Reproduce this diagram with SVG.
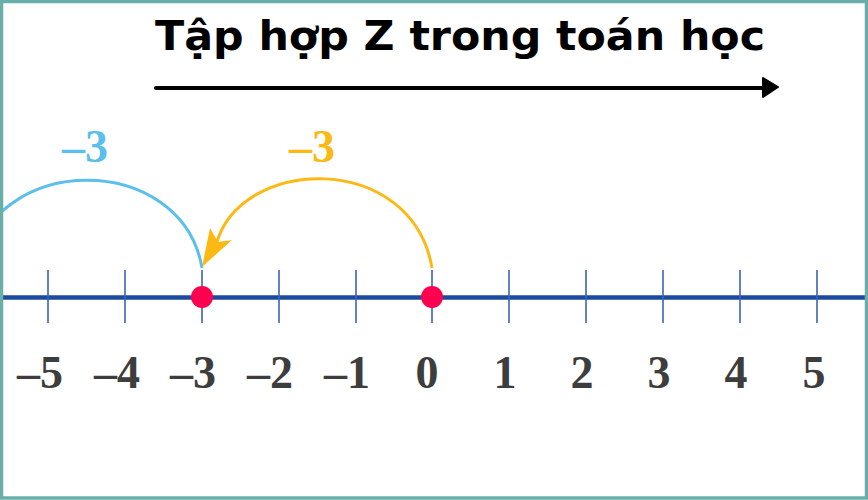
<svg xmlns="http://www.w3.org/2000/svg" width="868" height="500" viewBox="0 0 868 500">
<style>
.tick{stroke:#3a64b4;stroke-width:1.6}
.num{font-family:"Liberation Serif","Times New Roman",serif;font-weight:bold;font-size:46px;fill:#3d3d3d;text-anchor:middle}
.lbl{font-family:"Liberation Serif","Times New Roman",serif;font-weight:bold;font-size:46px;text-anchor:middle}
.title{font-family:"DejaVu Sans Condensed","DejaVu Sans",sans-serif;font-stretch:condensed;font-weight:bold;font-size:41px;fill:#000}
</style>
<defs>
<clipPath id="frame"><rect x="3" y="3" width="862" height="494"/></clipPath>
</defs>
<rect x="0" y="0" width="868" height="500" fill="#ffffff"/>
<g id="title">
<text class="title" x="155" y="50" textLength="610" lengthAdjust="spacingAndGlyphs">Tập hợp Z trong toán học</text>
</g>
<g id="direction-arrow">
<line x1="156" y1="88" x2="766" y2="88" stroke="#000" stroke-width="4" stroke-linecap="round"/>
<path d="M763,78 L778,87 L763,97 Z" fill="#000" stroke="#000" stroke-width="2" stroke-linejoin="round"/>
</g>
<g id="axis">
<line x1="3" y1="297.5" x2="865" y2="297.5" stroke="#1c4aa0" stroke-width="4.5"/>
<line class="tick" x1="48" y1="270" x2="48" y2="323"/>
<line class="tick" x1="125" y1="270" x2="125" y2="323"/>
<line class="tick" x1="202" y1="270" x2="202" y2="323"/>
<line class="tick" x1="279" y1="270" x2="279" y2="323"/>
<line class="tick" x1="356" y1="270" x2="356" y2="323"/>
<line class="tick" x1="432" y1="270" x2="432" y2="323"/>
<line class="tick" x1="509" y1="270" x2="509" y2="323"/>
<line class="tick" x1="586" y1="270" x2="586" y2="323"/>
<line class="tick" x1="663" y1="270" x2="663" y2="323"/>
<line class="tick" x1="740" y1="270" x2="740" y2="323"/>
<line class="tick" x1="817" y1="270" x2="817" y2="323"/>
</g>
<g id="labels">
<text class="num" x="40" y="388">–5</text>
<text class="num" x="117" y="388">–4</text>
<text class="num" x="193" y="388">–3</text>
<text class="num" x="270" y="388">–2</text>
<text class="num" x="347" y="388">–1</text>
<text class="num" x="427" y="388">0</text>
<text class="num" x="505" y="388">1</text>
<text class="num" x="582" y="388">2</text>
<text class="num" x="659" y="388">3</text>
<text class="num" x="736" y="388">4</text>
<text class="num" x="814" y="388">5</text>
</g>
<g id="connectors">
<path id="blue-jump" d="M202,268 C182,151 -8,151 -28,268" fill="none" stroke="#5bbfeb" stroke-width="3" clip-path="url(#frame)"/>
<path id="orange-jump" d="M432,268 C412,151 240,155 216,245" fill="none" stroke="#fdb913" stroke-width="3"/>
<polygon points="202,267 210,228 218,242 232,240" fill="#fdb913"/>
</g>
<g id="jump-labels">
<text class="lbl" x="85" y="162" fill="#5bbfeb">–3</text>
<text class="lbl" x="312" y="162" fill="#fdb913">–3</text>
</g>
<g id="point-minus3"><circle cx="202" cy="297" r="11" fill="#ff0050"/></g>
<g id="point-0"><circle cx="432" cy="297" r="11" fill="#ff0050"/></g>
<rect x="1.5" y="1.5" width="865" height="496.5" fill="none" stroke="#6aaeaa" stroke-width="3.5"/>
</svg>
